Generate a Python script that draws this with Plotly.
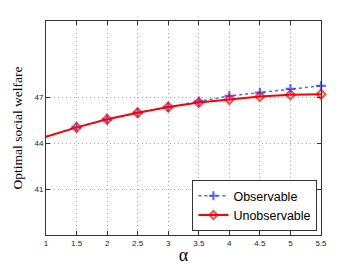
import plotly.graph_objects as go

alpha = [1, 1.5, 2, 2.5, 3, 3.5, 4, 4.5, 5, 5.5]
observable = [44.43, 45.04, 45.57, 46.0, 46.37, 46.74, 47.1, 47.32, 47.56, 47.76]
unobservable = [44.43, 45.04, 45.57, 46.0, 46.37, 46.67, 46.87, 47.06, 47.17, 47.21]
x_ticks = [1, 1.5, 2, 2.5, 3, 3.5, 4, 4.5, 5, 5.5]
y_ticks = [41, 44, 47]

msize = [0] + [7] * (len(alpha) - 1)

fig = go.Figure()
fig.add_trace(go.Scatter(
    x=alpha, y=observable, mode="lines+markers", name="Observable",
    line=dict(color="rgb(80,100,255)", width=1.5, dash="dot"),
    marker=dict(symbol="cross-thin", size=msize, color="rgb(30,50,255)",
                line=dict(color="rgb(30,50,255)", width=2.2)),
    cliponaxis=False,
))
fig.add_trace(go.Scatter(
    x=alpha, y=unobservable, mode="lines+markers", name="Unobservable",
    line=dict(color="rgb(255,0,0)", width=2),
    marker=dict(symbol="diamond-open", size=msize, color="rgb(255,0,0)",
                line=dict(color="rgb(255,0,0)", width=2)),
    cliponaxis=False,
))

axis_common = dict(
    showline=True, linecolor="#333", linewidth=1, mirror="ticks",
    ticks="inside", ticklen=4, tickcolor="#333",
    showgrid=True, gridcolor="#aaaaaa", griddash="1px,3px", gridwidth=1,
    zeroline=False, automargin=False,
    tickfont=dict(family="Liberation Sans", size=8, color="#222"),
)

fig.update_layout(
    width=354, height=266,
    margin=dict(l=38, r=41, t=13, b=39),
    plot_bgcolor="white", paper_bgcolor="white",
    showlegend=True,
    legend=dict(
        x=0.987, y=0.018, xanchor="right", yanchor="bottom",
        bgcolor="white", bordercolor="#333", borderwidth=1,
        font=dict(family="Liberation Sans", size=12.5, color="black"),
        tracegroupgap=0, itemwidth=30,
    ),
    xaxis=dict(axis_common, range=[1, 5.5], tickvals=x_ticks,
               ticktext=[str(v) for v in x_ticks],
               title=dict(text="α", font=dict(family="Liberation Serif", size=18, color="black"),
                          standoff=1)),
    yaxis=dict(axis_common, range=[38, 52], tickvals=y_ticks,
               title=dict(text="Optimal social welfare",
                          font=dict(family="Liberation Serif", size=13.5, color="black"),
                          standoff=8)),
)

fig.write_html("out.html")
